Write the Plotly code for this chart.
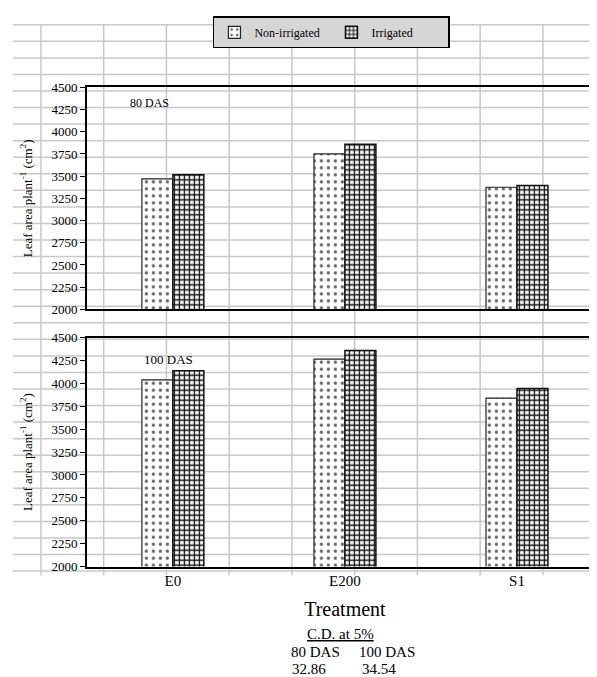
import plotly.graph_objects as go

categories = ["E0", "E200", "S1"]
non_irrigated_80 = [3470, 3750, 3375]
irrigated_80 = [3515, 3860, 3395]
non_irrigated_100 = [4040, 4265, 3840]
irrigated_100 = [4140, 4360, 3945]
y_ticks = [2000, 2250, 2500, 2750, 3000, 3250, 3500, 3750, 4000, 4250, 4500]
cd_headers = ["80 DAS", "100 DAS"]
cd_values = ["32.86", "34.54"]

W, H = 597, 677
FONT = "Liberation Serif, Times New Roman, DejaVu Serif, serif"

def px(x):
    return x / W

def py(y):
    return 1 - y / H

non_style = dict(color="white", line=dict(color="#222", width=1.2),
                 pattern=dict(shape=".", fgcolor="#666", bgcolor="white",
                              size=7, solidity=0.18, fillmode="replace"))
irr_style = dict(color="white", line=dict(color="#111", width=1.5),
                 pattern=dict(shape="+", fgcolor="#111", bgcolor="white",
                              size=5, solidity=0.45, fillmode="replace"))

fig = go.Figure()
fig.add_trace(go.Bar(x=categories, y=non_irrigated_80, name="Non-irrigated",
                     marker=non_style, xaxis="x", yaxis="y"))
fig.add_trace(go.Bar(x=categories, y=irrigated_80, name="Irrigated",
                     marker=irr_style, xaxis="x", yaxis="y"))
fig.add_trace(go.Bar(x=categories, y=non_irrigated_100, name="Non-irrigated",
                     marker=non_style, xaxis="x2", yaxis="y2", showlegend=False))
fig.add_trace(go.Bar(x=categories, y=irrigated_100, name="Irrigated",
                     marker=irr_style, xaxis="x2", yaxis="y2", showlegend=False))

# spreadsheet background grid (decoration)
shapes = []
grid_col = "#c8c8c8"
x0g, col_w = 33, 62.85
for k in range(9):
    xx = x0g + col_w * k
    shapes.append(dict(type="line", xref="paper", yref="paper", layer="below",
                       x0=px(xx), x1=px(xx), y0=py(10), y1=py(573),
                       line=dict(color=grid_col, width=1.5)))
row_h = 16.93
for k in range(34):
    yy = 10 + row_h * k
    shapes.append(dict(type="line", xref="paper", yref="paper", layer="below",
                       x0=px(5), x1=1, y0=py(yy), y1=py(yy),
                       line=dict(color=grid_col, width=1.5)))

xdom = [px(79), px(596)]
axis_common = dict(showline=True, linecolor="black", linewidth=1.5, mirror=True,
                   showgrid=False, zeroline=False)
yaxis_common = dict(axis_common, range=[2000, 4500], tickvals=y_ticks,
                    ticks="outside", ticklen=5, tickcolor="black",
                    tickfont=dict(family=FONT, size=13, color="black"),
                    title=dict(text="Leaf area plant<sup>-1</sup> (cm<sup>2</sup>)",
                               font=dict(family=FONT, size=13, color="black"),
                               standoff=16))

annotations = [
    dict(text="80 DAS", x=px(120), y=py(90), xref="paper", yref="paper",
         yanchor="middle", showarrow=False, font=dict(family=FONT, size=12, color="black")),
    dict(text="100 DAS", x=px(134), y=py(352), xref="paper", yref="paper",
         yanchor="middle", showarrow=False, font=dict(family=FONT, size=13, color="black")),
    dict(text="<u>C.D. at 5%</u>", x=px(333), y=py(633), xref="paper", yref="paper",
         yanchor="middle", showarrow=False, font=dict(family=FONT, size=15, color="black")),
]
for hx, head in zip([308, 380], cd_headers):
    annotations.append(dict(text=head, x=px(hx), y=py(651), xref="paper", yref="paper",
                            yanchor="middle", showarrow=False,
                            font=dict(family=FONT, size=15, color="black")))
for vx, val in zip([302, 372], cd_values):
    annotations.append(dict(text=val, x=px(vx), y=py(669), xref="paper", yref="paper",
                            yanchor="middle", showarrow=False,
                            font=dict(family=FONT, size=15, color="black")))

fig.update_layout(
    width=W, height=H,
    margin=dict(l=0, r=0, t=0, b=0),
    paper_bgcolor="white", plot_bgcolor="rgba(0,0,0,0)",
    barmode="group", bargap=0.64, bargroupgap=0,
    font=dict(family=FONT, color="black"),
    xaxis=dict(axis_common, domain=xdom, anchor="y", showticklabels=False, ticks=""),
    yaxis=dict(yaxis_common, domain=[py(301), py(74)], anchor="x"),
    xaxis2=dict(axis_common, domain=xdom, anchor="y2", ticks="",
                tickfont=dict(family=FONT, size=15, color="black"),
                title=dict(text="Treatment", font=dict(family=FONT, size=20, color="black"),
                           standoff=14)),
    yaxis2=dict(yaxis_common, domain=[py(564), py(330)], anchor="x2"),
    legend=dict(orientation="h", x=px(324), xanchor="center", y=0.998, yanchor="top",
                bgcolor="#d6d6d6", bordercolor="black", borderwidth=1.5,
                font=dict(family=FONT, size=12, color="black"),
                entrywidth=72, itemwidth=30, tracegroupgap=0),
    shapes=shapes,
    annotations=annotations,
    showlegend=True,
)

fig.write_html("out.html")
